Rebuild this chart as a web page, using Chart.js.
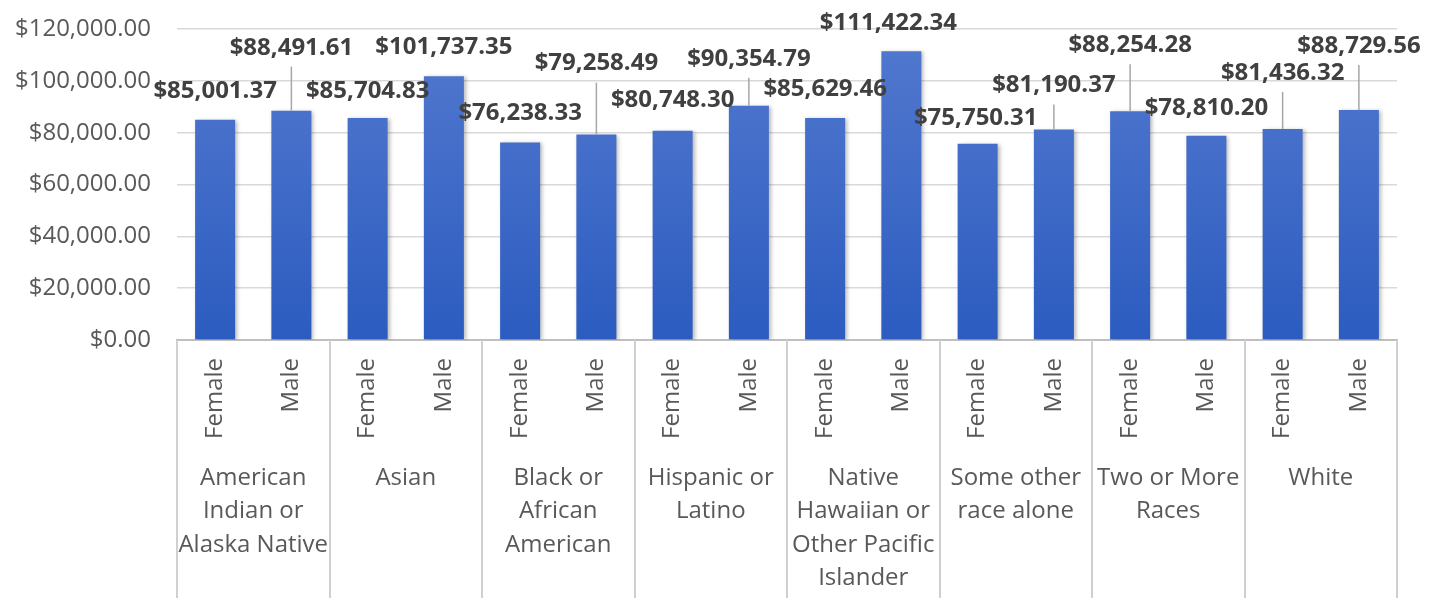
<!DOCTYPE html>
<html>
<head>
<meta charset="utf-8">
<script src="https://cdn.jsdelivr.net/npm/chart.js@4/dist/chart.umd.min.js"></script>
<style>
  html, body { margin: 0; padding: 0; background: #fff; }
  canvas { display: block; }
</style>
</head>
<body>
<canvas id="chart" width="1441" height="603"></canvas>
<script>
// categories, each already split into the lines shown under the axis
const categories = [
  ["American", "Indian or", "Alaska Native"],
  ["Asian"],
  ["Black or", "African", "American"],
  ["Hispanic or", "Latino"],
  ["Native", "Hawaiian or", "Other Pacific", "Islander"],
  ["Some other", "race alone"],
  ["Two or More", "Races"],
  ["White"],
];
const genders = ["Female", "Male"];
const salaries = [
  85001.37, 88491.61,
  85704.83, 101737.35,
  76238.33, 79258.49,
  80748.30, 90354.79,
  85629.46, 111422.34,
  75750.31, 81190.37,
  88254.28, 78810.20,
  81436.32, 88729.56,
];
const yMin = 0, yMax = 120000, yStep = 20000;

// label placement (px from bar top), like the manually moved labels in the original
const labelShift = [
  [0, -29], [0, -63], [0, -27], [0, -29],
  [0, -29], [0, -71], [0, -31], [0, -47],
  [0, -29], [-13, -28], [-2, -26], [0, -44],
  [0, -66], [0, -28], [0, -56], [0, -64],
];

const labels = [];
categories.forEach(c => genders.forEach(g => labels.push(g)));

const money = v => "$" + v.toLocaleString("en-US", { minimumFractionDigits: 2, maximumFractionDigits: 2 });
const FONT = "'Open Sans', 'Liberation Sans', sans-serif";

const labelPlugin = {
  id: "excelLabels",
  afterDatasetsDraw(chart) {
    const ctx = chart.ctx;
    const meta = chart.getDatasetMeta(0);
    const area = chart.chartArea;
    const x = chart.scales.x;
    ctx.save();

    // group separators under the axis
    ctx.strokeStyle = "#d0d0d0";
    ctx.lineWidth = 2;
    for (let i = 0; i <= categories.length; i++) {
      const px = Math.round(area.left + (area.right - area.left) * i / categories.length);
      ctx.beginPath();
      ctx.moveTo(px, area.bottom);
      ctx.lineTo(px, 598);
      ctx.stroke();
    }

    // rotated gender labels
    ctx.fillStyle = "#595959";
    ctx.font = "24px " + FONT;
    labels.forEach((g, i) => {
      const px = x.getPixelForValue(i);
      ctx.save();
      ctx.translate(px, 358);
      ctx.rotate(-Math.PI / 2);
      ctx.textAlign = "right";
      ctx.textBaseline = "middle";
      ctx.fillText(g, 0, 0);
      ctx.restore();
    });

    // category labels
    ctx.textAlign = "center";
    ctx.textBaseline = "middle";
    categories.forEach((lines, c) => {
      const cx = (x.getPixelForValue(c * 2) + x.getPixelForValue(c * 2 + 1)) / 2;
      lines.forEach((t, k) => ctx.fillText(t, cx, 478 + k * 33.5));
    });

    // data labels + leader lines
    ctx.font = "bold 24px " + FONT;
    meta.data.forEach((bar, i) => {
      const [dx, dy] = labelShift[i];
      const lx = bar.x + dx, ly = bar.y + dy;
      if (dy < -40) {
        ctx.strokeStyle = "#a6a6a6";
        ctx.lineWidth = 1.5;
        ctx.beginPath();
        ctx.moveTo(bar.x, ly + 19);
        ctx.lineTo(bar.x, bar.y);
        ctx.stroke();
      }
      ctx.fillStyle = "#404040";
      ctx.fillText(money(salaries[i]), lx, ly);
    });
    ctx.restore();
  },
};

const shadowPlugin = {
  id: "barShadow",
  beforeDatasetsDraw(chart) {
    const ctx = chart.ctx;
    ctx.save();
    ctx.shadowColor = "rgba(0,0,0,0.28)";
    ctx.shadowBlur = 4;
    ctx.shadowOffsetX = 2;
    ctx.shadowOffsetY = 1;
  },
  afterDatasetsDraw(chart) {
    chart.ctx.restore();
  },
};

new Chart(document.getElementById("chart"), {
  type: "bar",
  data: {
    labels: labels,
    datasets: [{
      data: salaries,
      backgroundColor(c) {
        const a = c.chart.chartArea;
        if (!a) return "#3a67c7";
        const g = c.chart.ctx.createLinearGradient(0, a.top, 0, a.bottom);
        g.addColorStop(0, "#5379cf");
        g.addColorStop(1, "#2c5cc0");
        return g;
      },
      barPercentage: 0.525,
      categoryPercentage: 1,
    }],
  },
  options: {
    responsive: false,
    animation: false,
    maintainAspectRatio: false,
    layout: { padding: { top: 29, right: 44, bottom: 263, left: 0 } },
    plugins: { legend: { display: false }, tooltip: { enabled: false } },
    scales: {
      x: {
        ticks: { display: false },
        grid: { display: false },
        border: { color: "#bfbfbf", width: 2 },
        afterFit(s) { s.height = 0; },
      },
      y: {
        min: yMin,
        max: yMax,
        ticks: {
          stepSize: yStep,
          padding: 26,
          color: "#595959",
          font: { family: FONT, size: 24 },
          callback: v => money(v),
        },
        grid: { color: "#d9d9d9", lineWidth: 1.5, drawTicks: false },
        border: { display: false },
        afterFit(s) {
          s.width = 177;
          s.paddingTop = 0;
          s.paddingBottom = 0;
        },
      },
    },
  },
  plugins: [shadowPlugin, labelPlugin],
});
</script>
</body>
</html>
